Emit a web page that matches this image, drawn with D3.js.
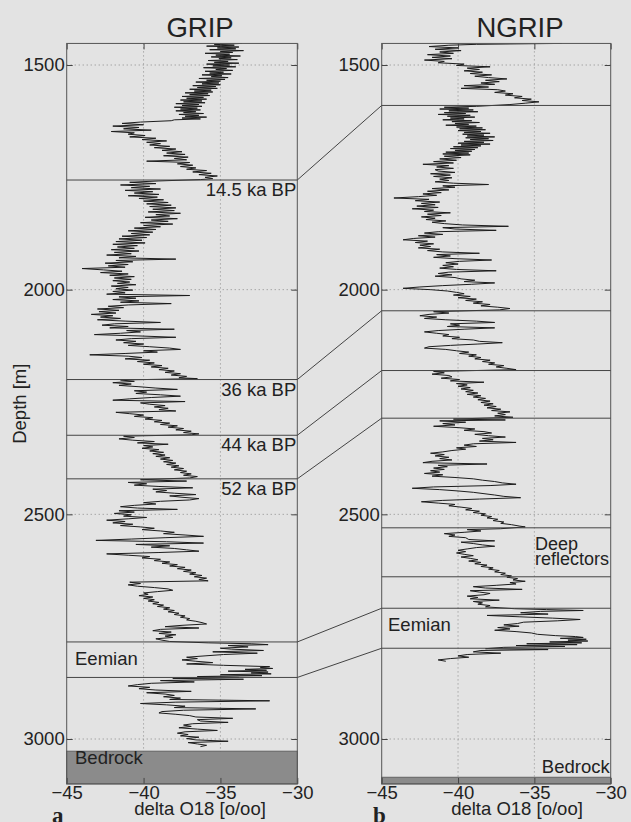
<!DOCTYPE html>
<html>
<head>
<meta charset="utf-8">
<script src="https://cdn.jsdelivr.net/npm/d3@7"></script>
<style>
  html, body { margin: 0; padding: 0; background: #e3e3e3; }
  svg { display: block; font-family: "Liberation Sans", Arial, sans-serif; }
  .tick text { fill: #222; }
</style>
</head>
<body>
<svg width="631" height="822"></svg>
<script>
// delta O18 profiles: [depth m, delta O18 permil]
const gripProfile = [
  [1452,-33.6],[1454,-35.4],[1456,-34.1],[1458,-35.9],[1460,-33.8],[1462,-35.2],[1464,-34.0],[1466,-35.7],[1468,-33.5],[1470,-35.0],
  [1472,-34.2],[1474,-36.0],[1476,-34.4],[1478,-35.3],[1480,-33.7],[1482,-35.6],[1484,-34.3],[1486,-35.1],[1488,-33.9],[1490,-35.8],
  [1492,-34.5],[1494,-35.4],[1496,-33.8],[1498,-35.9],[1500,-34.4],[1502,-35.5],[1504,-34.0],[1506,-36.1],[1508,-34.6],[1510,-35.3],
  [1512,-34.2],[1514,-36.0],[1516,-34.8],[1518,-35.7],[1520,-34.3],[1522,-36.2],[1524,-34.9],[1526,-35.6],[1528,-34.5],[1530,-36.4],
  [1532,-34.7],[1534,-35.9],[1536,-35.0],[1538,-36.6],[1540,-35.1],[1542,-36.2],[1544,-35.0],[1546,-36.8],[1548,-35.3],[1550,-36.5],
  [1552,-35.2],[1554,-37.0],[1556,-35.6],[1558,-36.7],[1560,-35.5],[1562,-37.3],[1564,-35.8],[1566,-37.0],[1568,-35.7],[1570,-37.5],
  [1572,-36.1],[1574,-37.2],[1576,-35.9],[1578,-37.6],[1580,-36.2],[1582,-37.4],[1584,-36.0],[1586,-37.9],[1588,-36.4],[1590,-37.5],
  [1592,-36.2],[1594,-38.0],[1596,-36.5],[1598,-37.6],[1600,-36.3],[1602,-37.9],[1604,-36.6],[1606,-37.4],[1608,-36.1],[1610,-37.7],
  [1612,-36.4],[1614,-37.3],[1616,-35.9],[1618,-37.5],[1620,-36.3],[1622,-38.0],[1624,-38.2],[1627,-40.2],[1630,-41.4],
  [1633,-40.0],[1636,-42.0],[1639,-40.3],[1642,-41.3],[1645,-39.5],[1648,-42.1],[1651,-40.6],[1654,-41.0],[1657,-39.9],[1660,-40.9],
  [1663,-39.2],[1666,-40.1],[1669,-38.5],[1672,-39.8],[1675,-38.9],[1678,-39.6],[1681,-38.3],[1684,-39.3],[1687,-37.9],[1690,-38.8],
  [1693,-37.5],[1696,-38.5],[1699,-37.3],[1702,-38.7],[1705,-37.1],[1708,-38.0],[1711,-37.2],[1714,-39.8],[1717,-37.0],[1720,-37.8],
  [1723,-36.8],[1726,-37.6],[1729,-36.6],[1732,-37.2],[1735,-35.9],[1738,-36.8],[1741,-35.6],[1744,-36.4],[1747,-35.2],[1750,-36.0],
  [1753,-35.5],[1755,-36.3],
  [1758,-39.0],[1761,-40.9],[1764,-39.2],[1767,-41.5],[1770,-39.6],[1773,-40.8],[1776,-38.9],[1779,-41.2],[1782,-39.4],[1785,-40.6],
  [1788,-39.0],[1791,-41.0],[1794,-39.1],[1797,-40.3],[1800,-38.7],[1803,-40.0],[1806,-38.4],[1809,-39.8],[1812,-38.2],[1815,-39.6],
  [1818,-37.9],[1821,-39.4],[1824,-38.0],[1827,-39.7],[1830,-37.6],[1833,-39.2],[1836,-38.3],[1839,-39.9],[1842,-37.8],[1845,-39.5],
  [1848,-38.4],[1851,-40.2],[1854,-38.1],[1857,-40.0],[1860,-38.9],[1863,-40.6],[1866,-39.2],[1869,-41.0],[1872,-39.4],[1875,-40.8],
  [1878,-39.6],[1881,-41.4],[1884,-39.8],[1887,-41.6],[1890,-40.1],[1893,-41.8],[1896,-39.9],[1899,-42.0],[1902,-40.4],[1905,-41.7],
  [1908,-40.6],[1911,-42.1],[1914,-40.3],[1917,-41.9],[1920,-40.8],[1923,-42.4],[1926,-40.5],[1929,-41.6],[1932,-37.9],[1935,-41.8],
  [1938,-40.7],[1941,-42.5],[1944,-41.0],[1947,-42.3],[1950,-41.2],[1953,-44.0],[1956,-42.6],[1959,-41.4],[1962,-42.8],[1965,-41.0],
  [1968,-42.2],[1971,-40.6],[1974,-41.9],[1977,-40.8],[1980,-42.0],[1983,-40.9],[1986,-41.7],[1989,-40.5],[1992,-42.1],[1995,-41.0],
  [1998,-41.8],[2001,-40.7],[2004,-42.0],[2007,-41.2],[2010,-42.4],[2013,-37.0],[2016,-41.6],[2019,-40.5],[2022,-42.0],[2025,-40.3],
  [2028,-41.5],[2031,-38.2],[2034,-41.0],[2037,-42.3],[2040,-41.3],[2043,-43.0],[2046,-41.6],[2049,-42.9],[2052,-41.8],[2055,-43.4],
  [2058,-42.0],[2061,-42.8],[2064,-41.5],[2067,-43.0],[2070,-41.2],[2073,-38.9],[2076,-41.9],[2079,-42.7],[2082,-41.0],[2085,-42.2],
  [2088,-38.0],[2091,-41.1],[2094,-40.2],[2097,-41.5],[2100,-43.2],[2103,-40.3],[2106,-37.9],[2109,-40.8],[2112,-41.8],[2115,-40.5],
  [2118,-41.3],[2121,-40.0],[2124,-41.0],[2127,-39.6],[2130,-38.3],[2133,-37.6],[2136,-40.0],[2139,-39.1],[2142,-41.2],[2145,-43.5],
  [2148,-41.0],[2151,-40.1],[2154,-41.2],[2157,-39.6],[2160,-40.4],[2163,-39.3],[2166,-40.0],[2169,-38.8],[2172,-39.5],[2175,-38.4],
  [2178,-39.0],[2181,-38.0],[2184,-38.6],[2187,-37.6],[2190,-38.2],[2193,-37.2],[2196,-37.7],[2198,-36.5],
  [2201,-41.5],[2204,-40.6],[2207,-42.0],[2210,-40.8],[2213,-41.6],[2216,-40.3],[2219,-39.2],[2222,-37.8],[2225,-40.6],[2228,-39.8],
  [2231,-40.5],[2234,-38.9],[2237,-37.6],[2240,-39.5],[2243,-40.9],[2246,-42.0],[2249,-37.3],[2252,-40.2],[2255,-39.6],[2258,-38.6],
  [2261,-39.3],[2264,-38.4],[2267,-39.0],[2270,-37.9],[2273,-41.8],[2276,-40.9],[2279,-40.0],[2282,-40.6],[2285,-39.4],[2288,-39.9],
  [2291,-38.8],[2294,-39.3],[2297,-38.3],[2300,-38.9],[2303,-37.8],[2306,-38.4],[2309,-37.4],[2312,-37.9],[2315,-36.9],[2318,-37.4],
  [2321,-36.4],[2323,-36.9],
  [2326,-41.3],[2329,-40.6],[2332,-41.6],[2335,-40.7],[2338,-39.3],[2341,-40.4],[2344,-38.4],[2347,-40.0],[2350,-39.4],[2353,-40.1],
  [2356,-39.0],[2359,-39.6],[2362,-38.7],[2365,-39.4],[2368,-38.6],[2371,-39.2],[2374,-38.3],[2377,-38.9],[2380,-38.1],[2383,-38.7],
  [2386,-37.9],[2389,-38.5],[2392,-37.7],[2395,-38.2],[2398,-37.4],[2401,-38.0],[2404,-37.2],[2407,-37.6],[2410,-36.9],[2413,-37.4],
  [2416,-36.5],[2419,-37.0],
  [2423,-40.2],[2426,-37.2],[2429,-41.0],[2432,-39.8],[2435,-40.6],[2438,-39.0],[2441,-36.8],[2444,-39.4],[2447,-38.5],[2450,-39.2],
  [2453,-38.0],[2456,-36.6],[2459,-38.3],[2462,-37.5],[2465,-36.4],[2468,-37.0],[2471,-38.9],[2474,-40.0],[2477,-39.2],[2480,-40.6],
  [2483,-41.5],[2486,-40.4],[2489,-37.8],[2492,-41.6],[2495,-40.6],[2498,-41.9],[2501,-40.8],[2504,-41.3],[2507,-39.8],[2510,-41.0],
  [2513,-42.4],[2516,-41.2],[2519,-42.0],[2522,-40.7],[2525,-41.5],[2528,-40.2],[2531,-39.3],[2534,-40.1],[2537,-38.9],[2540,-38.0],
  [2543,-38.7],[2546,-37.3],[2549,-36.1],[2552,-38.6],[2555,-40.8],[2558,-43.1],[2561,-38.5],[2564,-36.1],[2567,-40.5],[2570,-38.3],
  [2573,-39.5],[2576,-38.0],[2579,-37.2],[2582,-36.4],[2585,-39.0],[2588,-42.4],[2591,-41.0],[2594,-39.6],[2597,-40.1],[2600,-38.9],
  [2603,-39.3],[2606,-38.3],[2609,-38.8],[2612,-37.8],[2615,-38.3],[2618,-37.3],[2621,-37.8],[2624,-36.9],[2627,-37.4],[2630,-36.6],
  [2633,-37.0],[2636,-36.2],[2639,-36.7],[2642,-35.9],[2645,-36.4],[2648,-35.8],[2651,-40.9],[2654,-40.2],[2657,-41.0],[2660,-40.4],
  [2663,-39.3],[2666,-38.4],[2669,-38.1],[2672,-39.1],[2675,-40.0],[2678,-39.7],[2681,-40.3],[2684,-39.4],[2687,-40.0],[2690,-39.3],
  [2693,-39.7],[2696,-39.0],[2699,-39.4],[2702,-38.7],[2705,-39.1],[2708,-38.3],[2711,-38.7],[2714,-38.0],[2717,-38.4],[2720,-37.7],
  [2723,-38.0],[2726,-37.3],[2729,-37.6],[2732,-37.0],[2735,-37.2],[2738,-36.6],[2741,-36.2],[2744,-35.9],[2747,-37.5],[2750,-38.6],
  [2753,-36.4],[2756,-38.9],[2759,-39.4],[2762,-38.2],[2765,-39.0],[2768,-37.9],[2771,-38.6],[2774,-38.1],[2777,-39.2],[2780,-38.8],
  [2783,-38.3],
  [2786,-35.8],[2788,-33.0],[2790,-31.9],[2792,-34.5],[2795,-33.2],[2798,-35.0],[2800,-34.3],[2803,-32.2],[2806,-35.5],[2809,-32.6],
  [2812,-34.8],[2815,-36.0],[2818,-37.2],[2821,-36.5],[2824,-37.5],[2827,-36.6],[2830,-35.5],[2833,-37.2],[2836,-34.8],[2839,-31.8],
  [2841,-32.4],[2843,-31.6],[2845,-33.4],[2847,-32.0],[2849,-34.5],[2851,-31.9],[2853,-33.0],[2855,-31.7],[2857,-35.0],[2859,-32.3],
  [2861,-36.5],[2863,-33.8],
  [2865,-38.1],[2867,-33.5],[2870,-38.9],[2873,-36.7],[2876,-39.5],[2879,-40.4],[2882,-41.0],[2885,-39.6],[2888,-40.3],[2891,-39.2],
  [2894,-36.9],[2897,-39.8],[2900,-38.6],[2903,-38.0],[2906,-38.7],[2909,-37.6],[2912,-38.3],[2915,-31.8],[2918,-37.9],[2921,-40.2],
  [2924,-38.5],[2927,-37.3],[2930,-38.0],[2933,-32.7],[2936,-37.4],[2939,-38.8],[2942,-39.0],[2945,-37.9],[2948,-37.0],[2951,-36.6],
  [2954,-34.2],[2957,-36.5],[2960,-36.3],[2963,-34.5],[2966,-36.8],[2969,-37.4],[2972,-36.9],[2975,-37.7],[2978,-36.5],[2981,-35.2],
  [2984,-37.3],[2987,-37.8],[2990,-37.1],[2993,-37.6],[2996,-36.4],[2999,-37.2],[3002,-36.6],[3005,-34.5],[3008,-37.1],[3011,-36.5],
  [3014,-35.9],[3017,-36.3]
];

const ngripProfile = [
  [1452,-33.2],[1453,-36.2],[1454,-38.8],[1456,-40.6],[1459,-41.9],[1462,-40.0],[1465,-41.5],[1468,-39.8],[1471,-41.2],[1474,-40.3],
  [1477,-42.0],[1480,-40.5],[1483,-41.7],[1486,-40.4],[1489,-42.2],[1492,-40.9],[1495,-41.3],[1498,-39.6],[1501,-40.1],[1504,-37.9],
  [1507,-39.4],[1510,-38.6],[1513,-39.6],[1516,-38.4],[1519,-39.2],[1522,-37.8],[1525,-38.9],[1528,-38.0],[1531,-36.8],[1534,-38.2],
  [1537,-37.3],[1540,-38.5],[1543,-37.6],[1546,-39.6],[1549,-38.0],[1552,-39.8],[1555,-37.4],[1558,-36.9],[1561,-37.6],[1564,-36.4],
  [1567,-36.9],[1570,-35.8],[1573,-36.3],[1576,-35.2],[1579,-35.8],[1582,-34.7],[1585,-35.6],[1588,-36.6],
  [1592,-38.8],[1594,-40.9],[1596,-39.3],[1598,-41.2],[1600,-39.0],[1602,-40.6],[1604,-38.7],[1606,-40.9],[1608,-39.5],[1610,-41.3],
  [1612,-39.2],[1614,-40.7],[1616,-38.9],[1618,-40.5],[1620,-39.6],[1622,-41.0],[1624,-39.1],[1626,-40.4],[1628,-38.6],[1630,-40.2],
  [1632,-39.3],[1634,-40.8],[1636,-38.8],[1638,-40.1],[1640,-38.4],[1642,-39.9],[1644,-38.2],[1646,-40.0],[1648,-38.5],[1650,-39.6],
  [1652,-37.9],[1654,-39.7],[1656,-38.3],[1658,-39.4],[1660,-37.6],[1662,-39.5],[1664,-38.0],[1666,-39.2],[1668,-37.7],[1670,-39.6],
  [1672,-38.3],[1674,-40.0],[1676,-37.9],[1678,-39.8],[1680,-38.5],[1682,-40.3],[1684,-38.7],[1686,-40.5],[1688,-38.9],[1690,-40.2],
  [1692,-39.1],[1694,-40.8],[1696,-39.3],[1698,-41.0],[1700,-39.2],[1703,-40.9],[1706,-39.8],[1709,-41.2],
  [1712,-40.1],[1715,-41.6],[1718,-40.3],[1721,-42.3],[1724,-40.6],[1727,-41.4],[1730,-40.3],[1733,-41.5],[1736,-41.3],[1739,-40.2],
  [1742,-41.8],[1745,-40.5],[1748,-41.6],[1751,-40.4],[1754,-41.2],[1757,-40.6],[1760,-41.5],[1763,-40.3],[1766,-38.0],[1769,-41.0],
  [1772,-40.2],[1775,-41.7],[1778,-40.6],[1781,-42.0],[1784,-41.1],[1787,-42.3],[1790,-41.4],[1793,-42.6],[1796,-44.2],[1799,-41.9],
  [1802,-42.8],[1805,-41.2],[1808,-42.4],[1811,-41.5],[1814,-42.7],[1817,-41.3],[1820,-43.0],[1823,-41.6],[1826,-42.2],[1829,-40.5],
  [1832,-42.0],[1835,-41.1],[1838,-42.4],[1841,-41.5],[1844,-42.1],[1847,-40.8],[1850,-41.7],[1853,-40.9],[1856,-39.7],[1859,-36.7],
  [1862,-41.0],[1865,-40.2],[1868,-37.5],[1871,-41.3],[1874,-42.2],[1877,-41.0],[1880,-42.6],[1883,-41.5],[1886,-42.9],[1889,-43.6],
  [1892,-42.0],[1895,-42.8],[1898,-41.6],[1901,-42.5],[1904,-41.8],[1907,-42.6],[1910,-41.2],[1913,-42.0],[1916,-41.0],[1919,-38.6],
  [1922,-41.4],[1925,-40.5],[1928,-41.6],[1931,-40.2],[1934,-37.8],[1937,-39.9],[1940,-40.8],[1943,-40.0],[1946,-41.0],[1949,-40.3],
  [1952,-41.2],[1955,-40.1],[1958,-37.5],[1961,-40.6],[1964,-41.3],[1967,-40.4],[1970,-41.5],[1973,-40.2],[1976,-39.8],[1979,-38.9],
  [1982,-39.6],[1985,-37.6],[1988,-39.1],[1991,-41.0],[1994,-42.5],[1997,-43.6],[2000,-41.8],[2003,-40.7],[2006,-40.1],[2009,-39.6],
  [2012,-40.3],[2015,-39.2],[2018,-40.0],[2021,-38.8],[2024,-39.5],[2027,-38.4],[2030,-39.0],[2033,-37.9],[2036,-38.5],[2039,-37.4],
  [2042,-36.6],[2045,-37.3],
  [2049,-41.6],[2052,-40.6],[2055,-41.9],[2058,-42.5],[2061,-41.4],[2064,-42.2],[2067,-40.8],[2070,-38.8],[2073,-37.6],[2076,-40.5],
  [2079,-39.9],[2082,-40.7],[2085,-37.6],[2088,-39.6],[2091,-41.3],[2094,-42.2],[2097,-41.4],[2100,-40.6],[2103,-41.0],[2106,-39.9],
  [2109,-40.4],[2112,-39.0],[2115,-38.6],[2118,-37.1],[2121,-38.7],[2124,-40.5],[2127,-41.9],[2130,-42.2],[2133,-40.8],[2136,-40.1],
  [2139,-39.3],[2142,-39.9],[2145,-38.8],[2148,-39.3],[2151,-38.5],[2154,-38.9],[2157,-37.9],[2160,-38.4],[2163,-37.6],[2166,-38.0],
  [2169,-37.0],[2172,-37.5],[2175,-36.8],[2178,-36.2],
  [2182,-41.6],[2185,-40.9],[2188,-41.7],[2191,-40.6],[2194,-40.4],[2197,-41.1],[2200,-39.9],[2203,-40.5],[2206,-38.3],[2209,-40.1],
  [2212,-39.4],[2215,-40.0],[2218,-39.2],[2221,-39.8],[2224,-39.0],[2227,-39.5],[2230,-38.7],[2233,-39.4],[2236,-38.5],[2239,-39.0],
  [2242,-38.2],[2245,-38.7],[2248,-37.9],[2251,-38.5],[2254,-37.7],[2257,-38.3],[2260,-37.5],[2263,-38.1],[2266,-37.2],[2269,-37.8],
  [2272,-36.6],[2275,-37.4],[2278,-36.9],[2281,-37.6],[2284,-36.4],
  [2288,-40.3],[2290,-36.9],[2292,-41.2],[2295,-39.5],[2298,-41.0],[2301,-40.2],[2304,-41.6],[2307,-40.0],[2310,-38.9],[2313,-39.6],
  [2316,-38.3],[2319,-37.8],[2322,-38.9],[2325,-38.0],[2328,-36.9],[2331,-38.4],[2334,-37.7],[2337,-38.6],[2340,-36.2],[2343,-39.0],
  [2346,-39.6],[2349,-38.8],[2352,-40.1],[2355,-39.5],[2358,-40.4],[2361,-41.0],[2364,-41.8],[2367,-40.9],[2370,-41.5],[2373,-40.6],
  [2376,-41.2],[2379,-40.4],[2382,-41.7],[2385,-42.3],[2388,-38.1],[2391,-41.3],[2394,-40.7],[2397,-41.6],[2400,-40.9],[2403,-41.8],
  [2406,-41.2],[2409,-42.2],[2412,-41.0],[2415,-41.7],[2418,-40.2],[2421,-39.0],[2424,-38.4],[2427,-37.6],[2430,-37.1],[2433,-36.2],
  [2436,-37.9],[2439,-41.6],[2442,-43.0],[2445,-41.2],[2448,-40.0],[2451,-39.0],[2454,-38.3],[2457,-37.6],[2460,-37.0],[2463,-35.9],
  [2466,-38.6],[2469,-41.0],[2472,-42.4],[2475,-41.3],[2478,-40.2],[2481,-40.6],[2484,-39.8],[2487,-39.1],[2490,-39.5],[2493,-38.6],
  [2496,-39.0],[2499,-38.2],[2502,-38.5],[2505,-37.8],[2508,-38.1],[2511,-37.4],[2514,-37.7],[2517,-37.0],[2520,-37.2],[2523,-36.5],
  [2526,-36.0],[2528,-35.6],
  [2532,-37.2],[2534,-39.4],[2537,-38.5],[2540,-39.6],[2543,-40.9],[2546,-40.2],[2549,-40.6],[2552,-39.5],[2556,-39.3],[2559,-37.6],
  [2562,-39.8],[2565,-39.0],[2568,-38.4],[2571,-37.6],[2574,-38.8],[2577,-39.4],[2580,-40.0],[2583,-39.5],[2586,-40.1],[2589,-39.6],
  [2592,-39.0],[2595,-39.8],[2598,-39.2],[2601,-38.7],[2604,-39.3],[2607,-38.5],[2610,-38.9],[2613,-38.1],[2616,-38.5],[2619,-37.7],
  [2622,-38.0],[2625,-37.3],[2628,-37.6],[2631,-36.9],[2634,-37.2],[2637,-36.5],[2640,-36.8],[2643,-36.1],[2646,-36.4],[2649,-35.6],
  [2652,-36.6],[2655,-36.2],[2658,-37.5],[2661,-39.0],[2664,-38.2],[2667,-35.8],[2670,-39.2],[2673,-38.6],[2676,-37.9],[2679,-38.3],
  [2682,-39.4],[2685,-38.7],[2688,-39.2],[2691,-37.3],[2694,-39.0],[2697,-38.4],[2700,-38.7],[2703,-37.9],[2706,-38.2],
  [2710,-36.3],[2712,-34.2],[2714,-31.8],[2716,-34.6],[2719,-35.9],[2722,-34.1],[2725,-38.1],[2728,-36.0],[2731,-33.8],[2734,-32.0],
  [2737,-33.5],[2740,-35.7],[2743,-36.1],[2746,-37.0],[2749,-36.0],[2752,-37.4],[2755,-36.6],[2758,-37.6],[2761,-36.2],[2764,-35.2],
  [2767,-34.8],[2770,-33.6],[2772,-32.3],[2774,-31.8],[2776,-33.3],[2778,-31.6],[2780,-32.8],[2782,-31.5],[2784,-34.0],[2786,-31.9],
  [2788,-35.5],[2790,-32.2],[2792,-36.2],[2794,-33.0],[2796,-37.0],
  [2799,-38.2],[2801,-34.1],[2803,-38.5],[2806,-39.0],[2809,-37.2],[2812,-39.4],[2815,-40.0],[2818,-39.3],[2821,-40.5],[2824,-41.3],
  [2827,-40.8]
];

// horizons (depth m) and their labels
const gripHorizons = [1756, 2200, 2324, 2421, 2784, 2863];
const gripAgeLabels = [[1756, "14.5 ka BP"], [2200, "36 ka BP"], [2324, "44 ka BP"], [2421, "52 ka BP"]];
const ngripHorizons = [1590, 2047, 2180, 2286, 2530, 2639, 2709, 2798];
// GRIP depth -> NGRIP depth tie lines
const tiePairs = [[1756, 1590], [2200, 2047], [2324, 2180], [2421, 2286], [2784, 2709], [2863, 2798]];
const gripBedrock = 3027;
const ngripBedrock = 3085;

const xTicks = [-45, -40, -35, -30];
const yTicks = [1500, 2000, 2500, 3000];
const depthRange = [1452, 3100];

const svg = d3.select("svg");
const fontSize = 18.5;

const y = d3.scaleLinear().domain([1500, 3000]).range([65, 739]);
const yTop = y(depthRange[0]), yBottom = y(depthRange[1]);

const xGrip = d3.scaleLinear().domain([-45, -30]).range([66.7, 297.3]);
const xNgrip = d3.scaleLinear().domain([-45, -30]).range([381.7, 610.7]);

function panel(x, profile, bedrock, name) {
  const g = svg.append("g");
  const [x0, x1] = x.range();

  g.append("clipPath").attr("id", "clip-" + name)
    .append("rect").attr("x", x0).attr("y", yTop).attr("width", x1 - x0).attr("height", yBottom - yTop);

  // dotted grid
  g.selectAll(".gx").data([-40, -35]).enter().append("line")
    .attr("x1", d => x(d)).attr("x2", d => x(d)).attr("y1", yTop).attr("y2", yBottom)
    .attr("stroke", "#8a8a8a").attr("stroke-width", 1).attr("stroke-dasharray", "1,3");
  g.selectAll(".gy").data(yTicks).enter().append("line")
    .attr("x1", x0).attr("x2", x1).attr("y1", d => y(d)).attr("y2", d => y(d))
    .attr("stroke", "#8a8a8a").attr("stroke-width", 1).attr("stroke-dasharray", "1,3");

  // profile
  const line = d3.line().x(d => x(d[1])).y(d => y(d[0]));
  g.append("path").datum(profile)
    .attr("clip-path", `url(#clip-${name})`)
    .attr("d", line)
    .attr("fill", "none").attr("stroke", "#1c1c1c").attr("stroke-width", 1);

  // bedrock
  g.append("rect").attr("x", x0).attr("y", y(bedrock)).attr("width", x1 - x0).attr("height", yBottom - y(bedrock))
    .attr("fill", "#8b8b8b").attr("stroke", "#555").attr("stroke-width", 0.8);

  // axes with inward ticks
  const left = g.append("g").attr("transform", `translate(${x0},0)`)
    .call(d3.axisLeft(y).tickValues(yTicks).tickSize(-6).tickPadding(2).tickFormat(d3.format("d")));
  g.append("g").attr("transform", `translate(${x1},0)`)
    .call(d3.axisRight(y).tickValues(yTicks).tickSize(-6).tickFormat(""));
  g.append("g").attr("transform", `translate(0,${yTop})`)
    .call(d3.axisTop(x).tickValues(xTicks).tickSize(-6).tickFormat(""));
  const bot = g.append("g").attr("transform", `translate(0,${yBottom})`)
    .call(d3.axisBottom(x).tickValues(xTicks).tickSize(-6).tickPadding(2).tickFormat(d => d3.format("d")(d).replace("-", "\u2212")));

  g.selectAll(".domain").remove();
  g.selectAll(".tick line").attr("stroke", "#444");
  [left, bot].forEach(a => a.attr("font-family", null).attr("font-size", fontSize));

  g.append("rect").attr("x", x0).attr("y", yTop).attr("width", x1 - x0).attr("height", yBottom - yTop)
    .attr("fill", "none").attr("stroke", "#555").attr("stroke-width", 1);

  return g;
}

const gGrip = panel(xGrip, gripProfile, gripBedrock, "grip");
const gNgrip = panel(xNgrip, ngripProfile, ngripBedrock, "ngrip");

// horizon lines
gGrip.selectAll(".hz").data(gripHorizons).enter().append("line")
  .attr("x1", xGrip.range()[0]).attr("x2", xGrip.range()[1])
  .attr("y1", d => y(d)).attr("y2", d => y(d))
  .attr("stroke", "#444").attr("stroke-width", 1);
gNgrip.selectAll(".hz").data(ngripHorizons).enter().append("line")
  .attr("x1", xNgrip.range()[0]).attr("x2", xNgrip.range()[1])
  .attr("y1", d => y(d)).attr("y2", d => y(d))
  .attr("stroke", "#444").attr("stroke-width", 1);

// tie lines between cores
svg.selectAll(".tie").data(tiePairs).enter().append("line")
  .attr("x1", xGrip.range()[1]).attr("y1", d => y(d[0]))
  .attr("x2", xNgrip.range()[0]).attr("y2", d => y(d[1]))
  .attr("stroke", "#444").attr("stroke-width", 1);

// texts
function label(x, yy, text, anchor, size) {
  return svg.append("text").attr("x", x).attr("y", yy)
    .attr("text-anchor", anchor || "start")
    .attr("font-size", size || fontSize).attr("fill", "#222").text(text);
}

gripAgeLabels.forEach(([d, t]) => label(xGrip.range()[1] - 1, y(d) + 16, t, "end"));
label(75, y(gripHorizons[4]) + 23, "Eemian");
label(388, y(ngripHorizons[6]) + 23, "Eemian");
label(535, y(ngripHorizons[4]) + 22, "Deep", "start", 18);
label(535, y(ngripHorizons[4]) + 37, "reflectors", "start", 18);
label(75, y(gripBedrock) + 12.5, "Bedrock");
label(xNgrip.range()[1] - 1, y(ngripBedrock) - 4, "Bedrock", "end");

label(200, 37, "GRIP", "middle", 27.5);
label(520, 37, "NGRIP", "middle", 27.5);
label(200, 815, "delta O18 [o/oo]", "middle");
label(517, 815, "delta O18 [o/oo]", "middle");

svg.append("text")
  .attr("transform", `translate(26,${(yTop + yBottom) / 2 - 10}) rotate(-90)`)
  .attr("text-anchor", "middle").attr("font-size", fontSize).attr("fill", "#222")
  .text("Depth [m]");

svg.append("text").attr("x", 52).attr("y", 823).attr("font-family", "Liberation Serif, serif")
  .attr("font-weight", "bold").attr("font-size", 23).attr("fill", "#222").text("a");
svg.append("text").attr("x", 373).attr("y", 823).attr("font-family", "Liberation Serif, serif")
  .attr("font-weight", "bold").attr("font-size", 23).attr("fill", "#222").text("b");
</script>
</body>
</html>
